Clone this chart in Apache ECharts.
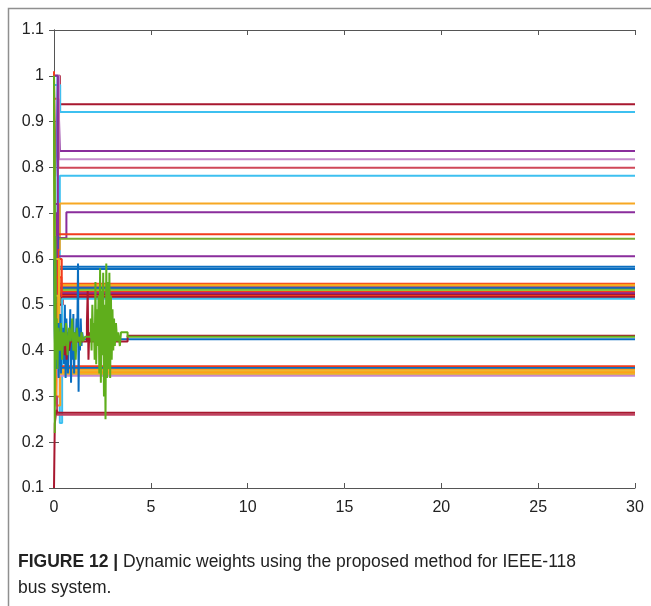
<!DOCTYPE html>
<html>
<head>
<meta charset="utf-8">
<script src="https://cdn.jsdelivr.net/npm/echarts@6/dist/echarts.min.js"></script>
<style>
html,body{margin:0;padding:0;background:#fff;}
#chart{width:651px;height:606px;}
</style>
</head>
<body>
<div id="chart"></div>
<script>
// ---------- DATA ----------
const xTicks = [0, 5, 10, 15, 20, 25, 30];
const yTicks = [0.1, 0.2, 0.3, 0.4, 0.5, 0.6, 0.7, 0.8, 0.9, 1.0, 1.1];
const captionBold = "FIGURE 12 | ";
const captionText1 = "Dynamic weights using the proposed method for IEEE-118";
const captionText2 = "bus system.";

// upper settled weights (time, weight)
const w01 = [[0,1.0],[0.30,0.938],[30,0.938]];
const w02 = [[0,0.98],[0.32,0.921],[30,0.921]];
const w03 = [[0,1.0],[0.06,0.78],[0.12,0.84],[0.20,1.0],[0.30,0.836],[30,0.836]];
const w04 = [[0,1.0],[0.26,0.818],[30,0.818]];
const w05 = [[0,0.95],[0.22,0.799],[30,0.799]];
const w06 = [[0,1.0],[0.18,0.60],[0.30,0.782],[30,0.782]];
const w07 = [[0,0.97],[0.08,0.50],[0.16,0.62],[0.30,0.721],[30,0.721]];
const w08 = [[0,1.0],[0.20,0.646],[0.64,0.702],[30,0.702]];
const w09 = [[0,1.01],[0.05,0.66],[0.10,0.28],[0.20,0.654],[30,0.654]];
const w10 = [[0,0.92],[0.08,0.64],[0.14,0.70],[0.22,0.644],[30,0.644]];
const w11 = [[0,0.72],[0.22,0.606],[30,0.606]];
const w12 = [[0,0.65],[0.18,0.583],[30,0.583]];
const w13 = [[0,0.55],[0.20,0.578],[30,0.578]];
// cluster around 0.52-0.55
const w14 = [[0,0.62],[0.22,0.546],[30,0.546]];
const w15 = [[0,0.40],[0.12,0.60],[0.28,0.544],[30,0.544]];
const w16 = [[0,0.48],[0.25,0.541],[30,0.541]];
const w17 = [[0,0.70],[0.15,0.50],[0.30,0.538],[30,0.538]];
const w18 = [[0,0.58],[0.24,0.536],[30,0.536]];
const w19 = [[0,0.90],[0.10,0.45],[0.26,0.533],[30,0.533]];
const w20 = [[0,0.50],[0.30,0.531],[30,0.531]];
const w21 = [[0,0.45],[0.20,0.60],[0.40,0.528],[30,0.528]];
const w22 = [[0,0.52],[0.35,0.525],[30,0.525]];
const w23 = [[0,0.46],[0.40,0.522],[30,0.522]];
const w24 = [[0,0.56],[0.38,0.519],[30,0.519]];
const w25 = [[0,0.50],[0.45,0.517],[30,0.517]];
const w26 = [[0,0.46],[0.30,0.242],[0.42,0.513],[30,0.513]];
// lower settled weights
const w27 = [[0,0.30],[0.12,0.50],[0.24,0.366],[30,0.366]];
const w28 = [[0,0.42],[0.20,0.362],[30,0.362]];
const w29 = [[0,0.70],[0.10,0.30],[0.30,0.358],[30,0.358]];
const w30 = [[0,0.52],[0.22,0.355],[30,0.355]];
const w31 = [[0,0.28],[0.32,0.352],[30,0.352]];
const w32 = [[0,0.60],[0.26,0.349],[30,0.349]];
const w33 = [[0,0.40],[0.20,0.345],[30,0.345]];
const w34 = [[0,0.10],[0.04,0.24],[0.12,0.27],[0.20,0.2645],[30,0.2645]];
const w35 = [[0,0.30],[0.16,0.260],[30,0.260]];
// oscillating weights
const wBlue = [[0,0.60],[0.03,0.45],[0.06,0.40],[0.09,0.47],[0.12,0.36],[0.15,0.44],[0.18,0.40],[0.21,0.46],[0.24,0.34],[0.27,0.42],[0.30,0.39],[0.33,0.48],[0.36,0.35],[0.40,0.43],[0.44,0.40],[0.48,0.45],[0.52,0.37],[0.56,0.50],[0.60,0.34],[0.64,0.47],[0.68,0.41],[0.72,0.35],[0.76,0.44],[0.80,0.40],[0.84,0.49],[0.88,0.33],[0.92,0.46],[0.96,0.38],[1.00,0.48],[1.04,0.35],[1.08,0.44],[1.12,0.41],[1.16,0.47],[1.20,0.42],[1.24,0.59],[1.27,0.31],[1.30,0.45],[1.34,0.40],[1.38,0.47],[1.42,0.41],[1.46,0.44],[1.50,0.425],[30,0.425]];
const wRed = [[0,0.42],[0.55,0.39],[0.60,0.43],[0.65,0.38],[0.70,0.42],[0.78,0.40],[0.85,0.42],[1.70,0.46],[1.74,0.53],[1.78,0.38],[1.82,0.44],[1.86,0.42],[3.80,0.4325],[30,0.4325]];
const wGreen = [[0,1.0],[0.04,0.22],[0.07,0.65],[0.10,0.38],[0.14,0.47],[0.18,0.36],[0.22,0.45],[0.30,0.40],[0.36,0.46],[0.42,0.38],[0.48,0.44],[0.56,0.41],[0.62,0.46],[0.70,0.39],[0.78,0.45],[0.86,0.42],[0.94,0.47],[1.00,0.40],[1.06,0.44],[1.12,0.38],[1.18,0.45],[1.24,0.42],[1.30,0.43],[1.36,0.41],[1.42,0.44],[1.50,0.42],[1.60,0.43],[1.90,0.47],[1.94,0.40],[1.98,0.50],[2.02,0.42],[2.06,0.46],[2.10,0.38],[2.14,0.55],[2.18,0.37],[2.22,0.49],[2.26,0.41],[2.30,0.52],[2.34,0.35],[2.38,0.58],[2.42,0.33],[2.46,0.53],[2.50,0.39],[2.54,0.57],[2.58,0.30],[2.62,0.50],[2.66,0.25],[2.70,0.59],[2.74,0.34],[2.78,0.55],[2.82,0.36],[2.86,0.57],[2.90,0.34],[2.94,0.52],[2.98,0.38],[3.02,0.49],[3.06,0.40],[3.10,0.47],[3.14,0.41],[3.20,0.46],[3.26,0.42],[3.32,0.44],[3.40,0.41],[3.46,0.44],[3.80,0.43],[30,0.43]];

// ---------- STYLE ----------
const C = {
  DR:'#A8172F', CY:'#3DC0F0', PU:'#8A2D9C', LP:'#C58ACD', MR:'#D04858',
  YO:'#F7A823', OR:'#FF9F1A', YE:'#EBB424', RD:'#F23C1E', GN:'#77AC30',
  LG:'#8CC63F', BL:'#0A6EC0', PK:'#C04060', GO:'#5FAE1C'
};
const lines = [
  [w01,C.DR],[w02,C.CY],[w03,C.PU],[w04,C.LP],[w05,C.MR],[w06,C.CY],[w07,C.YO],
  [w08,C.PU],[w09,C.RD],[w10,C.GN],[w11,C.PU],[w12,C.BL],[w13,C.BL],
  [w14,C.RD],[w15,C.OR],[w16,C.YE],[w17,C.PU],[w18,C.BL],[w19,C.GN],[w20,C.LG],
  [w21,C.RD],[w22,C.PU],[w23,C.DR],[w24,C.RD],[w25,C.DR],[w26,C.CY],
  [w27,C.RD],[w28,C.BL],[w29,C.OR],[w30,C.YE],[w31,C.OR],[w32,C.YE],[w33,C.LP],
  [w35,C.PK],[w34,C.DR],
  [wBlue,C.BL],[wRed,C.DR],[wGreen,C.GO]
];

const axisCol = '#555';
const labelFont = {fontFamily:'"Liberation Sans", Arial, sans-serif', fontSize:16, color:'#222'};
const capFont = '"Liberation Sans Narrow","Liberation Sans",Arial';

const chart = echarts.init(document.getElementById('chart'), null, {renderer:'canvas'});
chart.setOption({
  animation:false,
  backgroundColor:'#fff',
  grid:{left:54, right:16, top:30, bottom:118},
  xAxis:[
    {type:'value', min:xTicks[0], max:xTicks[xTicks.length-1], interval:5,
     axisLine:{lineStyle:{color:axisCol,width:1}}, axisTick:{inside:true,length:5,lineStyle:{color:axisCol}},
     axisLabel:Object.assign({margin:12}, labelFont), splitLine:{show:false}},
    {type:'value', position:'top', min:0, max:30, interval:5,
     axisLine:{lineStyle:{color:axisCol,width:1}}, axisTick:{inside:true,length:5,lineStyle:{color:axisCol}},
     axisLabel:{show:false}, splitLine:{show:false}}
  ],
  yAxis:[
    {type:'value', min:yTicks[0], max:yTicks[yTicks.length-1], interval:0.1,
     axisLine:{lineStyle:{color:axisCol,width:1}}, axisTick:{inside:true,length:5,lineStyle:{color:axisCol}},
     axisLabel:Object.assign({margin:10, formatter:v=>String(+v.toFixed(1))}, labelFont), splitLine:{show:false}},
    {type:'value', position:'right', min:0.1, max:1.1, interval:0.1,
     axisLine:{lineStyle:{color:axisCol,width:1}}, axisTick:{inside:true,length:5,lineStyle:{color:axisCol}},
     axisLabel:{show:false}, splitLine:{show:false}}
  ],
  series: lines.map((l,i)=>({
    type:'line', step:'end', data:l[0], showSymbol:false, symbol:'none',
    xAxisIndex:0, yAxisIndex:0, clip:true, z:2,
    lineStyle:{color:l[1], width:2}, itemStyle:{color:l[1]}
  })),
  graphic:[
    {type:'rect', shape:{x:8.5,y:8.5,width:800,height:800}, style:{fill:null, stroke:'#8f8f8f', lineWidth:1.5}, silent:true},
    {type:'text', left:18, top:553, style:{
      text:'{b|'+captionBold+'}{r|'+captionText1+'}', rich:{
        b:{fontFamily:capFont, fontWeight:'bold', fontSize:17.5, fill:'#222'},
        r:{fontFamily:capFont, fontSize:17.5, fill:'#222'}
      }}},
    {type:'text', left:18, top:579, style:{text:captionText2,
      fontFamily:capFont, fontSize:17.5, fill:'#222'}}
  ]
});
</script>
</body>
</html>
